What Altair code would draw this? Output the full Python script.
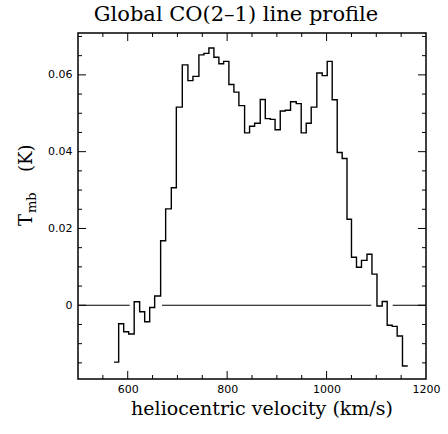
import altair as alt
import pandas as pd

# channel left edges (km/s) plus the final right edge
velocity_edges = [572.4, 581.8, 591.9, 601.9, 613.0, 624.0, 634.1, 644.2, 654.2, 666.2,
                  676.3, 687.7, 697.8, 709.8, 721.1, 731.2, 743.2, 753.3, 763.3, 773.4,
                  783.4, 792.9, 803.5, 813.6, 823.6, 835.1, 845.1, 855.2, 866.6, 876.7,
                  886.7, 896.4, 906.8, 916.9, 927.5, 939.0, 949.0, 959.1, 969.1, 980.4,
                  991.2, 1001.3, 1011.3, 1021.4, 1031.4, 1041.1, 1050.1, 1060.2, 1070.2, 1081.3,
                  1091.3, 1101.4, 1111.9, 1121.9, 1132.0, 1142.0, 1152.7, 1163.3]
# main-beam temperature per channel (K)
tmb = [-0.0148, -0.0048, -0.0069, -0.0075, 0.0009, -0.0017, -0.0043, -0.0006, 0.0024, 0.0168,
       0.0251, 0.0306, 0.0516, 0.0626, 0.0585, 0.0596, 0.0652, 0.0656, 0.0670, 0.0646,
       0.0629, 0.0635, 0.0575, 0.0555, 0.0520, 0.0449, 0.0466, 0.0474, 0.0536, 0.0486,
       0.0484, 0.0457, 0.0506, 0.0508, 0.0530, 0.0525, 0.0449, 0.0474, 0.0516, 0.0605,
       0.0598, 0.0635, 0.0535, 0.0398, 0.0382, 0.0224, 0.0125, 0.0099, 0.0117, 0.0133,
       0.0081, -0.0002, 0.0010, -0.0052, -0.0055, -0.0080, -0.0158]

# zero-baseline segments (km/s)
base_start = [500, 669, 1133]
base_end = [604, 1090, 1200]

x_major = [600, 800, 1000]
x_minor = [550, 650, 700, 750, 850, 900, 950, 1050, 1100, 1150]
x_labels = [600, 800, 1000, 1200]
y_major = [0.0, 0.02, 0.04, 0.06]
y_minor = [-0.015, -0.01, -0.005, 0.005, 0.01, 0.015, 0.025, 0.03, 0.035,
           0.045, 0.05, 0.055, 0.065, 0.07]

title_text = "Global CO(2\u20131) line profile"
x_title = "heliocentric velocity   (km/s)"
y_title_parts = ["T", "mb", "(K)"]

X_DOMAIN = [500, 1200]
Y_DOMAIN = [-0.0192, 0.0709]
W, H = 348, 346
MAJ, MIN = 8, 4
SERIF = "DejaVu Serif"
SANS = "DejaVu Sans"

spec = pd.DataFrame({"v": velocity_edges, "t": tmb + [tmb[-1]]})
base = pd.DataFrame({"v0": base_start, "v1": base_end, "z": [0.0] * len(base_start)})

xs = alt.Scale(domain=X_DOMAIN, nice=False, zero=False)
ys = alt.Scale(domain=Y_DOMAIN, nice=False, zero=False)

x_axis = alt.Axis(values=x_labels, ticks=False, tickSize=0, domain=False, grid=False,
                  format="d", labelFlush=False, labelOverlap=False,
                  labelFont=SANS, labelFontSize=11, labelColor="black",
                  labelPadding=4, title=None)
y_axis = alt.Axis(values=y_major, ticks=False, tickSize=0, domain=False, grid=False,
                  format=".2~f", labelFlush=False, labelOverlap=False,
                  labelFont=SANS, labelFontSize=11,
                  labelColor="black", labelPadding=6, title=None)

line = alt.Chart(spec).mark_line(interpolate="step-after", color="black", strokeWidth=1.4).encode(
    x=alt.X("v:Q", scale=xs, axis=x_axis),
    y=alt.Y("t:Q", scale=ys, axis=y_axis),
)

zero = alt.Chart(base).mark_rule(color="black", strokeWidth=1.2).encode(
    x=alt.X("v0:Q", scale=xs), x2="v1:Q", y=alt.Y("z:Q", scale=ys)
)

def xticks(vals, length):
    d = pd.DataFrame({"tv": vals})
    out = []
    for ypos in (H - length / 2, length / 2):
        out.append(alt.Chart(d).mark_tick(color="black", thickness=1, size=length,
                                          orient="vertical", opacity=1).encode(
            x=alt.X("tv:Q", scale=xs), y=alt.value(ypos)))
    return out

def yticks(vals, length):
    d = pd.DataFrame({"tt": vals})
    out = []
    for xpos in (length / 2, W - length / 2):
        out.append(alt.Chart(d).mark_tick(color="black", thickness=1, size=length,
                                          orient="horizontal", opacity=1).encode(
            y=alt.Y("tt:Q", scale=ys), x=alt.value(xpos)))
    return out

ticks = xticks(x_major, MAJ) + xticks(x_minor, MIN) + yticks(y_major, MAJ) + yticks(y_minor, MIN)

lab = pd.DataFrame({"a": [0]})

def label(text, size, x, y, angle=0, align="center"):
    kw = dict(text=text, font=SERIF, fontSize=size, align=align,
              baseline="alphabetic", color="black")
    if angle:
        kw["angle"] = angle
    return alt.Chart(lab).mark_text(**kw).encode(x=alt.value(x), y=alt.value(y))

texts = [
    label(title_text, 21, 158, -12),
    label(x_title, 19, 184, 382),
    label(y_title_parts[0], 18, -46, 193, angle=270, align="left"),
    label(y_title_parts[1], 13, -42, 180, angle=270, align="left"),
    label(y_title_parts[2], 18, -46, 139, angle=270, align="left"),
]

chart = alt.layer(zero, line, *ticks, *texts).properties(
    width=W, height=H,
    autosize=alt.AutoSizeParams(type="none"),
    padding={"left": 78, "top": 33, "right": 22, "bottom": 55},
).configure(background="white").configure_view(stroke="black", strokeWidth=1.5)

chart.save("out.html", embed_options={"renderer": "svg", "actions": False})
